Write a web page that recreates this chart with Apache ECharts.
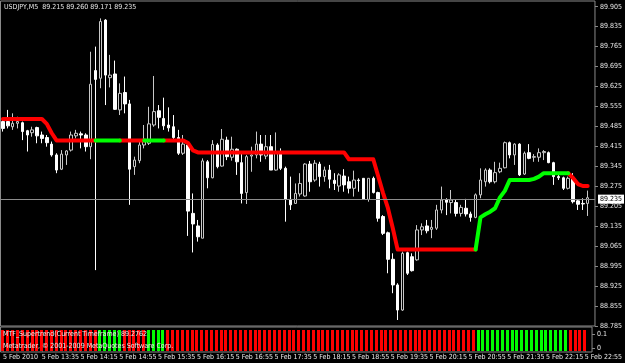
<!DOCTYPE html>
<html><head><meta charset="utf-8">
<script src="https://cdn.jsdelivr.net/npm/echarts@6/dist/echarts.min.js"></script>
<style>html,body{margin:0;padding:0;background:#000;} #c{width:625px;height:363px;}</style>
</head><body><div id="c"></div>
<script>
const symbolTitle = 'USDJPY,M5  89.215 89.260 89.171 89.235';
const indicatorTitle = 'MTF_Supertrend(Current Timeframe) 89.2762';
const copyrightText = 'Metatrader, \u00a9 2001-2009 MetaQuotes Software Corp.';

const categories = ['12:55',
'13:00','13:05','13:10','13:15','13:20','13:25','13:30','13:35','13:40','13:45','13:50','13:55',
'14:00','14:05','14:10','14:15','14:20','14:25','14:30','14:35','14:40','14:45','14:50','14:55',
'15:00','15:05','15:10','15:15','15:20','15:25','15:30','15:35','15:40','15:45','15:50','15:55',
'16:00','16:05','16:10','16:15','16:20','16:25','16:30','16:35','16:40','16:45','16:50','16:55',
'17:00','17:05','17:10','17:15','17:20','17:25','17:30','17:35','17:40','17:45','17:50','17:55',
'18:00','18:05','18:10','18:15','18:20','18:25','18:30','18:35','18:40','18:45','18:50','18:55',
'19:00','19:05','19:10','19:15','19:20','19:25','19:30','19:35','19:40','19:45','19:50','19:55',
'20:00','20:05','20:10','20:15','20:20','20:25','20:30','20:35','20:40','20:45','20:50','20:55',
'21:00','21:05','21:10','21:15','21:20','21:25','21:30','21:35','21:40','21:45','21:50','21:55',
'22:00','22:05','22:10','22:15','22:20','22:25','22:30','22:35','22:40','22:45','22:50','22:55'];

const timeLabels = ['5 Feb 2010','5 Feb 13:35','5 Feb 14:15','5 Feb 14:55','5 Feb 15:35','5 Feb 16:15',
'5 Feb 16:55','5 Feb 17:35','5 Feb 18:15','5 Feb 18:55','5 Feb 19:35','5 Feb 20:15','5 Feb 20:55',
'5 Feb 21:35','5 Feb 22:15','5 Feb 22:55'];

const priceTicks = [88.785,88.855,88.925,88.995,89.065,89.135,89.205,89.275,89.345,89.415,89.485,89.555,89.625,89.695,89.765,89.835,89.905];
const indicatorTicks = [0, 0.1];
const bidPrice = 89.235;
const histTop = 0.1276;
const histBottom = -0.0172;

const opens = [
89.502,89.502,89.484,89.496,89.498,89.470,89.463,89.481,89.455,89.446,
89.423,89.385,89.335,89.385,89.402,89.452,89.459,89.455,89.414,89.681,
89.654,89.858,89.656,89.669,89.543,89.604,89.564,89.344,89.365,89.420,
89.426,89.490,89.540,89.513,89.490,89.484,89.446,89.391,89.420,89.180,
89.136,89.093,89.361,89.305,89.420,89.346,89.437,89.377,89.405,89.358,
89.253,89.381,89.385,89.423,89.381,89.414,89.332,89.397,89.338,89.229,
89.215,89.248,89.241,89.353,89.297,89.353,89.309,89.332,89.296,89.276,
89.311,89.291,89.268,89.297,89.303,89.229,89.303,89.253,89.169,89.112,
89.019,88.929,88.841,89.042,89.028,89.017,89.122,89.136,89.124,89.128,
89.192,89.227,89.218,89.218,89.180,89.198,89.178,89.166,89.245,89.291,
89.332,89.291,89.326,89.340,89.428,89.385,89.423,89.318,89.393,89.377,
89.377,89.393,89.393,89.358,89.309,89.305,89.268,89.303,89.224,89.215,
89.215];
const closes = [
89.478,89.487,89.496,89.502,89.467,89.455,89.473,89.452,89.443,89.428,
89.385,89.332,89.388,89.399,89.455,89.461,89.455,89.414,89.633,89.650,
89.853,89.665,89.665,89.545,89.601,89.564,89.335,89.367,89.420,89.440,
89.494,89.537,89.517,89.487,89.480,89.446,89.391,89.423,89.188,89.143,
89.098,89.364,89.305,89.422,89.344,89.440,89.379,89.405,89.361,89.250,
89.379,89.385,89.423,89.385,89.414,89.332,89.397,89.338,89.229,89.210,
89.250,89.285,89.353,89.291,89.356,89.309,89.332,89.300,89.285,89.315,
89.280,89.268,89.297,89.295,89.229,89.303,89.253,89.163,89.110,89.019,
88.929,88.841,89.040,88.970,88.979,89.122,89.133,89.119,89.131,89.192,
89.227,89.219,89.227,89.180,89.201,89.178,89.166,89.245,89.297,89.332,
89.291,89.323,89.338,89.428,89.385,89.423,89.315,89.391,89.373,89.379,
89.393,89.397,89.358,89.309,89.305,89.268,89.303,89.221,89.212,89.213,
89.235];
const lows = [
89.467,89.478,89.473,89.478,89.437,89.397,89.449,89.426,89.426,89.414,
89.379,89.321,89.332,89.350,89.397,89.443,89.408,89.397,89.370,88.981,
89.619,89.560,89.622,89.543,89.525,89.531,89.210,89.315,89.356,89.408,
89.420,89.484,89.478,89.473,89.467,89.437,89.385,89.385,89.101,89.043,
89.081,89.093,89.268,89.303,89.338,89.344,89.367,89.365,89.315,89.215,
89.213,89.326,89.373,89.361,89.370,89.332,89.330,89.332,89.151,89.192,
89.213,89.239,89.239,89.256,89.291,89.274,89.291,89.268,89.262,89.256,
89.256,89.250,89.239,89.256,89.227,89.221,89.250,89.151,89.104,88.970,
88.900,88.806,88.838,88.964,88.976,89.014,89.104,89.110,89.093,89.122,
89.180,89.174,89.180,89.169,89.169,89.169,89.151,89.163,89.233,89.274,
89.285,89.285,89.321,89.338,89.373,89.350,89.311,89.315,89.370,89.361,
89.361,89.367,89.356,89.280,89.297,89.262,89.264,89.215,89.192,89.192,
89.171];
const highs = [
89.508,89.543,89.531,89.519,89.502,89.473,89.484,89.484,89.467,89.455,
89.432,89.391,89.402,89.402,89.467,89.473,89.467,89.461,89.747,89.765,
89.864,89.861,89.736,89.716,89.636,89.660,89.578,89.379,89.437,89.490,
89.554,89.662,89.560,89.586,89.552,89.525,89.473,89.455,89.426,89.250,
89.157,89.373,89.367,89.437,89.426,89.476,89.449,89.449,89.408,89.391,
89.385,89.414,89.467,89.455,89.455,89.455,89.464,89.408,89.344,89.309,
89.285,89.321,89.356,89.364,89.367,89.361,89.344,89.350,89.321,89.321,
89.335,89.309,89.330,89.303,89.303,89.303,89.309,89.256,89.174,89.116,
89.040,88.935,89.046,89.046,89.040,89.139,89.145,89.157,89.157,89.210,
89.274,89.233,89.262,89.227,89.210,89.231,89.186,89.250,89.338,89.338,
89.338,89.361,89.358,89.432,89.432,89.426,89.426,89.397,89.423,89.388,
89.408,89.402,89.397,89.361,89.321,89.309,89.309,89.321,89.227,89.233,
89.260];

const supertrend = [
89.511,89.511,89.511,89.511,89.511,89.511,89.511,89.511,89.511,89.494,
89.462,89.436,89.436,89.436,89.436,89.436,89.436,89.436,89.436,89.436,
89.436,89.436,89.436,89.436,89.436,89.436,89.436,89.436,89.436,89.436,
89.436,89.436,89.436,89.436,89.436,89.436,89.436,89.436,89.427,89.401,
89.394,89.394,89.394,89.394,89.394,89.394,89.394,89.394,89.394,89.394,
89.394,89.394,89.394,89.394,89.394,89.394,89.394,89.394,89.394,89.394,
89.394,89.394,89.394,89.394,89.394,89.394,89.394,89.394,89.394,89.394,
89.394,89.370,89.370,89.370,89.370,89.370,89.370,89.311,89.252,89.199,
89.129,89.053,89.053,89.053,89.053,89.053,89.053,89.053,89.053,89.053,
89.053,89.053,89.053,89.053,89.053,89.053,89.053,89.053,89.166,89.177,
89.186,89.198,89.236,89.259,89.297,89.297,89.297,89.297,89.297,89.301,
89.309,89.321,89.321,89.321,89.321,89.321,89.321,89.304,89.283,89.276,
89.276];
// 1 = up trend (green), -1 = down trend (red)
const trend = [
-1,-1,-1,-1,-1,-1,-1,-1,-1,-1,
-1,-1,-1,-1,-1,-1,-1,-1,-1,-1,
1,1,1,1,1,-1,-1,-1,-1,-1,
1,1,1,1,-1,-1,-1,-1,-1,-1,
-1,-1,-1,-1,-1,-1,-1,-1,-1,-1,
-1,-1,-1,-1,-1,-1,-1,-1,-1,-1,
-1,-1,-1,-1,-1,-1,-1,-1,-1,-1,
-1,-1,-1,-1,-1,-1,-1,-1,-1,-1,
-1,-1,-1,-1,-1,-1,-1,-1,-1,-1,
-1,-1,-1,-1,-1,-1,-1,-1,1,1,
1,1,1,1,1,1,1,1,1,1,
1,1,1,1,1,1,1,-1,-1,-1,
-1];

const FONT = "'Liberation Sans Narrow','DejaVu Sans Condensed','Liberation Sans',sans-serif";
const TXT = '#e8e8e8';
const FRAME = '#8a8a8a';

const xCats = categories.concat(['']);
const candleData = opens.map((o, i) => [o, closes[i], lows[i], highs[i]]);
const redLine = supertrend.map((v, i) => (trend[i] < 0 || trend[i + 1] < 0) ? v : '-');
const greenLine = supertrend.map((v, i) => (trend[i] > 0 || trend[i + 1] > 0) ? v : '-');
const histData = trend.map((t, i) => [i, histTop, histBottom, t]);

const chart = echarts.init(document.getElementById('c'), null, {renderer: 'canvas'});
chart.setOption({
  backgroundColor: '#000',
  animation: false,
  textStyle: {fontFamily: FONT},
  grid: [
    {left: 0.5, top: 1, width: 599, height: 325, show: true, borderColor: FRAME, borderWidth: 1, backgroundColor: 'transparent'},
    {left: 0.5, top: 327, width: 599, height: 25, show: true, borderColor: FRAME, borderWidth: 1, backgroundColor: 'transparent'}
  ],
  xAxis: [
    {type: 'category', gridIndex: 0, data: xCats, boundaryGap: true,
     axisLine: {show: false}, axisTick: {show: false}, axisLabel: {show: false}, splitLine: {show: false}},
    {type: 'category', gridIndex: 1, data: xCats, boundaryGap: true,
     axisLine: {show: false},
     axisTick: {show: true, interval: 7, alignWithLabel: true, length: 3, lineStyle: {color: FRAME}},
     axisLabel: {show: true, interval: 7, align: 'left', margin: 2, fontSize: 7, color: TXT, fontFamily: FONT,
       formatter: (v, i) => (i % 8 === 0 && timeLabels[i / 8]) ? timeLabels[i / 8] : ''},
     splitLine: {show: false}}
  ],
  yAxis: [
    {type: 'value', gridIndex: 0, position: 'right', min: 88.785, max: 89.925,
     axisLine: {show: false},
     axisTick: {show: true, customValues: priceTicks, length: 3, lineStyle: {color: FRAME}},
     axisLabel: {show: true, customValues: priceTicks, formatter: v => Number(v).toFixed(3), fontSize: 7, color: TXT, margin: 5, fontFamily: FONT},
     splitLine: {show: false}},
    {type: 'value', gridIndex: 1, position: 'right', min: -0.0241, max: 0.1483,
     axisLine: {show: false},
     axisTick: {show: true, customValues: indicatorTicks, length: 3, lineStyle: {color: FRAME}},
     axisLabel: {show: true, customValues: indicatorTicks, formatter: v => (Math.abs(v) < 1e-9 ? '0' : String(v)), fontSize: 7, color: TXT, margin: 5, fontFamily: FONT},
     splitLine: {show: false}}
  ],
  series: [
    {type: 'candlestick', xAxisIndex: 0, yAxisIndex: 0, data: candleData, barWidth: 3, z: 2,
     itemStyle: {color: '#000000', color0: '#ffffff', borderColor: '#c8c8c8', borderColor0: '#ffffff', borderWidth: 1},
     markLine: {symbol: 'none', silent: true, animation: false,
       lineStyle: {color: '#8c8c8c', width: 1, type: 'solid'},
       label: {show: true, position: 'end', distance: 3, formatter: () => bidPrice.toFixed(3),
         backgroundColor: '#ffffff', color: '#000000', fontSize: 7, fontFamily: FONT, padding: [1, 2]},
       data: [{yAxis: bidPrice}]}},
    {type: 'line', xAxisIndex: 0, yAxisIndex: 0, data: redLine, symbol: 'none', connectNulls: false, z: 4,
     lineStyle: {color: '#ff0000', width: 4, cap: 'round', join: 'round'}},
    {type: 'line', xAxisIndex: 0, yAxisIndex: 0, data: greenLine, symbol: 'none', connectNulls: false, z: 5,
     lineStyle: {color: '#00ff00', width: 4, cap: 'round', join: 'round'}},
    {type: 'custom', xAxisIndex: 1, yAxisIndex: 1, data: histData, encode: {x: 0, y: [1, 2]}, z: 2,
     renderItem: (params, api) => {
       const i = api.value(0);
       const p1 = api.coord([i, api.value(1)]);
       const p2 = api.coord([i, api.value(2)]);
       return {type: 'rect', shape: {x: Math.round(p1[0] - 1.5), y: p1[1], width: 3, height: p2[1] - p1[1]},
               style: {fill: api.value(3) > 0 ? '#00ff00' : '#ff0000'}};
     }}
  ],
  graphic: [
    {type: 'text', left: 4, top: 4, z: 10, style: {text: symbolTitle, fill: TXT, font: '7px ' + FONT}},
    {type: 'text', left: 3, top: 331, z: 10, style: {text: indicatorTitle, fill: TXT, font: '7px ' + FONT}},
    {type: 'text', left: 3, top: 343, z: 10, style: {text: copyrightText, fill: TXT, font: '7px ' + FONT}}
  ]
});
</script>
</body></html>
